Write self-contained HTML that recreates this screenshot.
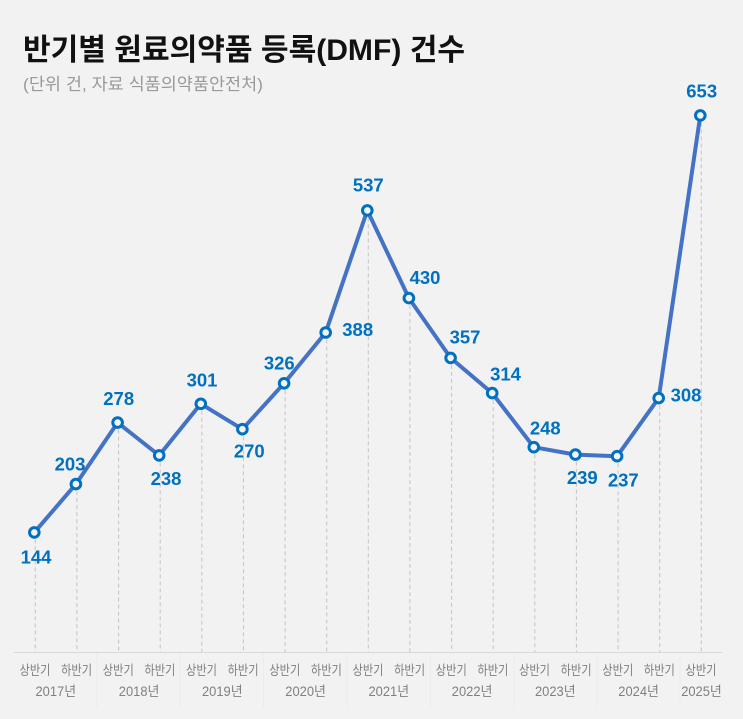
<!DOCTYPE html>
<html><head><meta charset="utf-8"><style>
html,body{margin:0;padding:0;background:#f2f2f2;}
svg{display:block;}
text{font-family:"Liberation Sans","Noto Sans CJK KR",sans-serif;}
</style></head><body>
<svg width="743" height="719" viewBox="0 0 743 719" xmlns="http://www.w3.org/2000/svg">
<rect width="743" height="719" fill="#f2f2f2"/>
<text x="23" y="60" font-size="30" font-weight="bold" fill="#111" textLength="442" lengthAdjust="spacingAndGlyphs">반기별 원료의약품 등록(DMF) 건수</text>
<text x="23" y="90" font-size="17" fill="#999" textLength="240" lengthAdjust="spacingAndGlyphs">(단위 건, 자료 식품의약품안전처)</text>

<g stroke="#c4c4c4" stroke-width="1" stroke-dasharray="4,3">
<line x1="35.3" y1="532.4" x2="35.3" y2="652"/>
<line x1="76.9" y1="484.1" x2="76.9" y2="652"/>
<line x1="118.6" y1="422.6" x2="118.6" y2="652"/>
<line x1="160.2" y1="455.4" x2="160.2" y2="652"/>
<line x1="201.8" y1="403.8" x2="201.8" y2="652"/>
<line x1="243.4" y1="429.2" x2="243.4" y2="652"/>
<line x1="285.1" y1="383.3" x2="285.1" y2="652"/>
<line x1="326.7" y1="332.5" x2="326.7" y2="652"/>
<line x1="368.3" y1="210.4" x2="368.3" y2="652"/>
<line x1="409.9" y1="298.1" x2="409.9" y2="652"/>
<line x1="451.6" y1="357.9" x2="451.6" y2="652"/>
<line x1="493.2" y1="393.1" x2="493.2" y2="652"/>
<line x1="534.8" y1="447.2" x2="534.8" y2="652"/>
<line x1="576.4" y1="454.6" x2="576.4" y2="652"/>
<line x1="618.1" y1="456.2" x2="618.1" y2="652"/>
<line x1="659.7" y1="398.1" x2="659.7" y2="652"/>
<line x1="701.3" y1="115.4" x2="701.3" y2="652"/>
</g>

<line x1="14" y1="652.5" x2="722" y2="652.5" stroke="#d9d9d9" stroke-width="1"/>
<g stroke="#ececec" stroke-width="1">
<line x1="96.7" y1="653" x2="96.7" y2="708"/>
<line x1="180" y1="653" x2="180" y2="708"/>
<line x1="263.5" y1="653" x2="263.5" y2="708"/>
<line x1="347" y1="653" x2="347" y2="708"/>
<line x1="430.5" y1="653" x2="430.5" y2="708"/>
<line x1="514" y1="653" x2="514" y2="708"/>
<line x1="597" y1="653" x2="597" y2="708"/>
<line x1="680" y1="653" x2="680" y2="708"/>
</g>

<polyline fill="none" stroke="#4472c4" stroke-width="4" stroke-linejoin="round" stroke-linecap="round"
points="34.3,532.4 75.9,484.1 117.6,422.6 159.2,455.4 200.8,403.8 242.4,429.2 284.1,383.3 325.7,332.5 367.3,210.4 408.9,298.1 450.6,357.9 492.2,393.1 533.8,447.2 575.4,454.6 617.1,456.2 658.7,398.1 700.3,115.4"/>

<g fill="#f4f4f4" stroke="#0070c0" stroke-width="3">
<circle cx="34.3" cy="532.4" r="4.8"/>
<circle cx="75.9" cy="484.1" r="4.8"/>
<circle cx="117.6" cy="422.6" r="4.8"/>
<circle cx="159.2" cy="455.4" r="4.8"/>
<circle cx="200.8" cy="403.8" r="4.8"/>
<circle cx="242.4" cy="429.2" r="4.8"/>
<circle cx="284.1" cy="383.3" r="4.8"/>
<circle cx="325.7" cy="332.5" r="4.8"/>
<circle cx="367.3" cy="210.4" r="4.8"/>
<circle cx="408.9" cy="298.1" r="4.8"/>
<circle cx="450.6" cy="357.9" r="4.8"/>
<circle cx="492.2" cy="393.1" r="4.8"/>
<circle cx="533.8" cy="447.2" r="4.8"/>
<circle cx="575.4" cy="454.6" r="4.8"/>
<circle cx="617.1" cy="456.2" r="4.8"/>
<circle cx="658.7" cy="398.1" r="4.8"/>
<circle cx="700.3" cy="115.4" r="4.8"/>
</g>

<g fill="#0070c0" font-size="18.5" font-weight="bold" text-anchor="middle">
<text x="36" y="563.3">144</text>
<text x="70" y="470.6">203</text>
<text x="118.7" y="404.9">278</text>
<text x="166" y="484.9">238</text>
<text x="202" y="386.6">301</text>
<text x="249.3" y="457.6">270</text>
<text x="279.3" y="369.3">326</text>
<text x="357.7" y="335.9">388</text>
<text x="368.3" y="191.6">537</text>
<text x="425" y="283.9">430</text>
<text x="465" y="343.3">357</text>
<text x="505.5" y="380.6">314</text>
<text x="545.3" y="434.3">248</text>
<text x="582.3" y="483.9">239</text>
<text x="623.3" y="486.6">237</text>
<text x="686" y="401.6">308</text>
<text x="701.7" y="97.3">653</text>
</g>

<g fill="#808080" font-size="13.5" text-anchor="middle">
<text x="35" y="675" textLength="31" lengthAdjust="spacingAndGlyphs">상반기</text>
<text x="76.6" y="675" textLength="31" lengthAdjust="spacingAndGlyphs">하반기</text>
<text x="118.3" y="675" textLength="31" lengthAdjust="spacingAndGlyphs">상반기</text>
<text x="159.9" y="675" textLength="31" lengthAdjust="spacingAndGlyphs">하반기</text>
<text x="201.5" y="675" textLength="31" lengthAdjust="spacingAndGlyphs">상반기</text>
<text x="243.1" y="675" textLength="31" lengthAdjust="spacingAndGlyphs">하반기</text>
<text x="284.8" y="675" textLength="31" lengthAdjust="spacingAndGlyphs">상반기</text>
<text x="326.4" y="675" textLength="31" lengthAdjust="spacingAndGlyphs">하반기</text>
<text x="368" y="675" textLength="31" lengthAdjust="spacingAndGlyphs">상반기</text>
<text x="409.6" y="675" textLength="31" lengthAdjust="spacingAndGlyphs">하반기</text>
<text x="451.3" y="675" textLength="31" lengthAdjust="spacingAndGlyphs">상반기</text>
<text x="492.9" y="675" textLength="31" lengthAdjust="spacingAndGlyphs">하반기</text>
<text x="534.5" y="675" textLength="31" lengthAdjust="spacingAndGlyphs">상반기</text>
<text x="576.1" y="675" textLength="31" lengthAdjust="spacingAndGlyphs">하반기</text>
<text x="617.8" y="675" textLength="31" lengthAdjust="spacingAndGlyphs">상반기</text>
<text x="659.4" y="675" textLength="31" lengthAdjust="spacingAndGlyphs">하반기</text>
<text x="701" y="675" textLength="31" lengthAdjust="spacingAndGlyphs">상반기</text>
</g>
<g fill="#808080" font-size="13.5" text-anchor="middle">
<text x="55.8" y="696" textLength="40.6" lengthAdjust="spacingAndGlyphs">2017년</text>
<text x="139.1" y="696" textLength="40.6" lengthAdjust="spacingAndGlyphs">2018년</text>
<text x="222.3" y="696" textLength="40.6" lengthAdjust="spacingAndGlyphs">2019년</text>
<text x="305.6" y="696" textLength="40.6" lengthAdjust="spacingAndGlyphs">2020년</text>
<text x="388.8" y="696" textLength="40.6" lengthAdjust="spacingAndGlyphs">2021년</text>
<text x="472.1" y="696" textLength="40.6" lengthAdjust="spacingAndGlyphs">2022년</text>
<text x="555.3" y="696" textLength="40.6" lengthAdjust="spacingAndGlyphs">2023년</text>
<text x="638.6" y="696" textLength="40.6" lengthAdjust="spacingAndGlyphs">2024년</text>
<text x="701.5" y="696" textLength="40.6" lengthAdjust="spacingAndGlyphs">2025년</text>
</g>
</svg>
</body></html>
